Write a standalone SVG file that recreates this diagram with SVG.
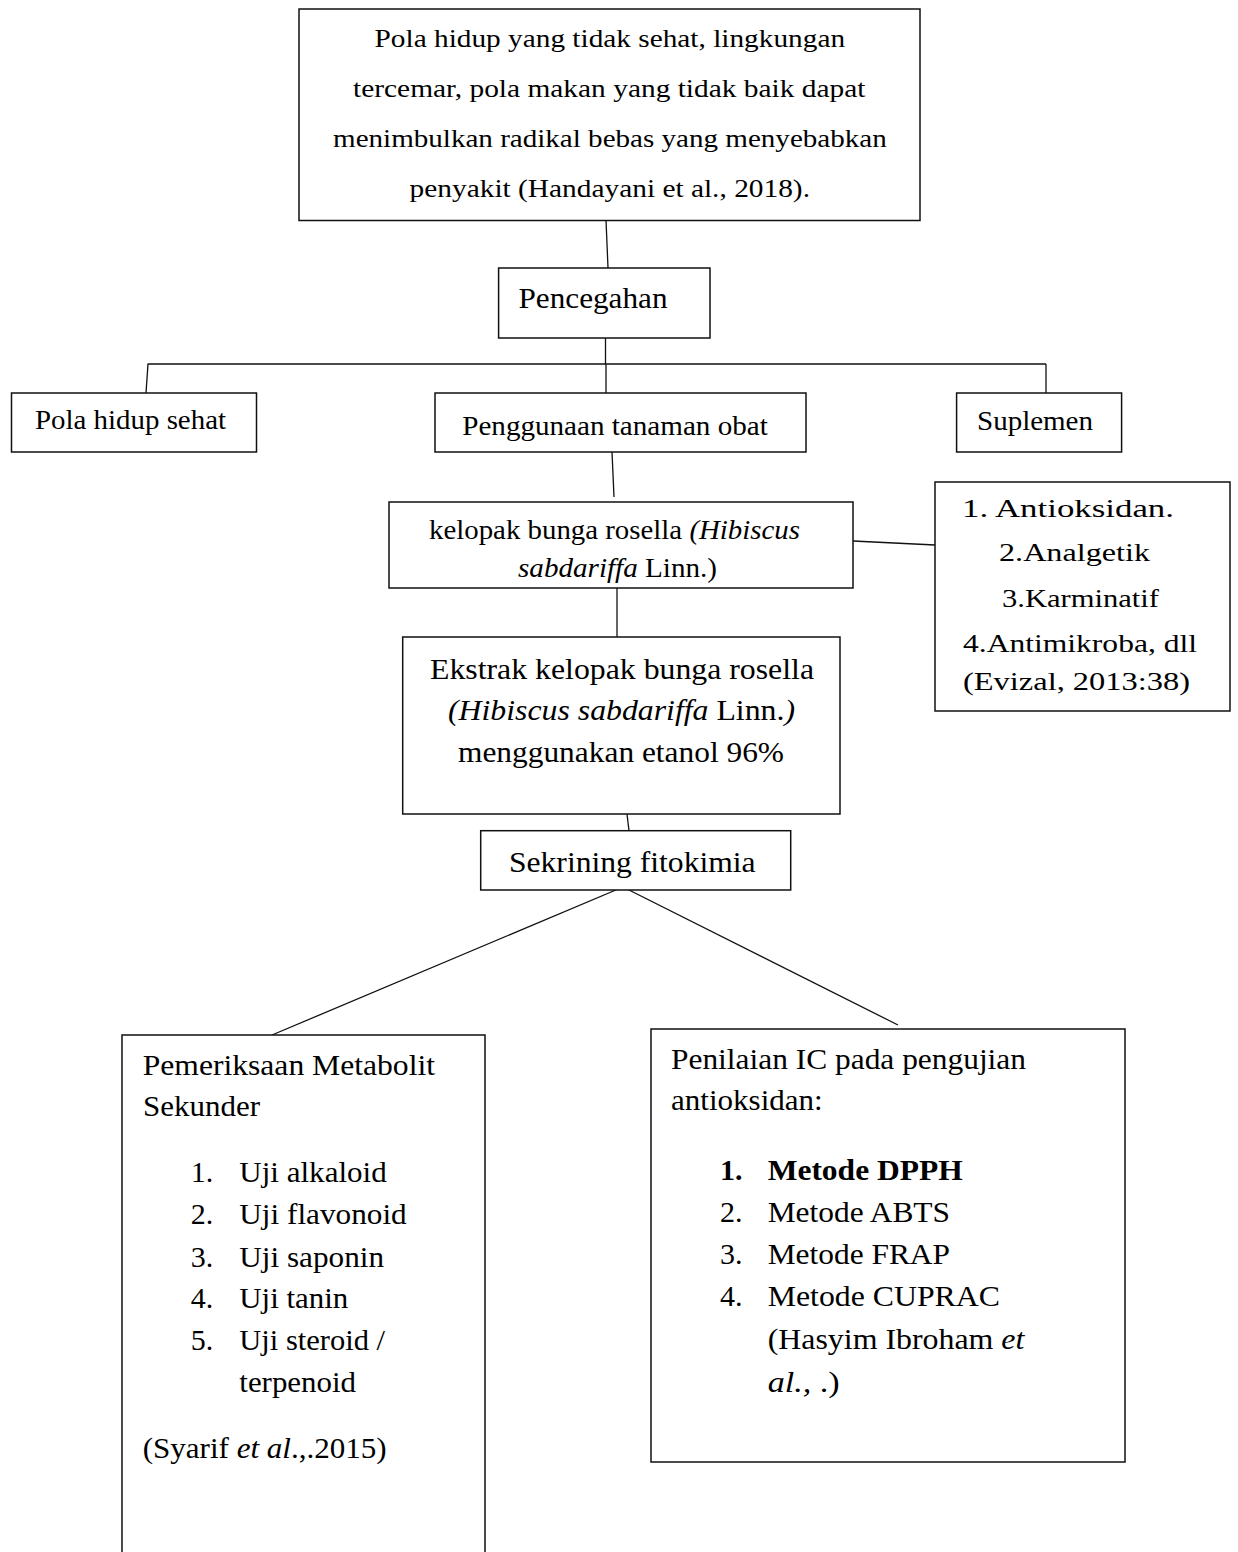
<svg xmlns="http://www.w3.org/2000/svg" width="1238" height="1552" viewBox="0 0 1238 1552" font-family="Liberation Serif, Times New Roman, Tinos, Times, serif">
<style>
  .box{fill:#fff;stroke:#111;stroke-width:1.5}
  .ln{fill:none;stroke:#111;stroke-width:1.3}
  text{font-family:'Liberation Serif','Times New Roman',Tinos,Times,serif;fill:#000}
  .c{text-anchor:middle}
  .i{font-style:italic}
  .b{font-weight:bold}
  .s26{font-size:26px}
  .s27{font-size:27px}
  .s25{font-size:25px}
  .s30{font-size:30px}
</style>
<rect width="1238" height="1552" fill="#fff"/>

<g id="connectors">
  <line class="ln" x1="606" y1="220" x2="608" y2="268"/>
  <line class="ln" x1="605.5" y1="338" x2="605.5" y2="364"/>
  <line class="ln" x1="147.6" y1="364" x2="1046" y2="364"/>
  <line class="ln" x1="148" y1="364" x2="146" y2="393"/>
  <line class="ln" x1="606" y1="364" x2="606" y2="393"/>
  <line class="ln" x1="1046" y1="364" x2="1046" y2="393"/>
  <line class="ln" x1="612" y1="452" x2="614" y2="497"/>
  <line class="ln" x1="853" y1="541" x2="935" y2="545"/>
  <line class="ln" x1="617" y1="588" x2="617" y2="637"/>
  <line class="ln" x1="627" y1="814" x2="629" y2="831"/>
  <line class="ln" x1="623" y1="887" x2="272" y2="1035"/>
  <line class="ln" x1="623" y1="887" x2="898" y2="1025"/>
</g>

<g id="node-top">
  <rect class="box" x="299" y="9" width="621" height="211.5"/>
  <text class="c s26" x="609.8" y="47" textLength="470.5" lengthAdjust="spacingAndGlyphs">Pola hidup yang tidak sehat, lingkungan</text>
  <text class="c s26" x="609.3" y="97" textLength="512.5" lengthAdjust="spacingAndGlyphs">tercemar, pola makan yang tidak baik dapat</text>
  <text class="c s26" x="609.9" y="147" textLength="553.7" lengthAdjust="spacingAndGlyphs">menimbulkan radikal bebas yang menyebabkan</text>
  <text class="c s26" x="609.8" y="197" textLength="400.4" lengthAdjust="spacingAndGlyphs">penyakit (Handayani et al., 2018).</text>
</g>

<g id="node-pencegahan">
  <rect class="box" x="498.6" y="268" width="211.4" height="70"/>
  <text class="c s30" x="593" y="308" textLength="149" lengthAdjust="spacingAndGlyphs">Pencegahan</text>
</g>

<g id="node-pola">
  <rect class="box" x="11.5" y="393" width="245" height="59"/>
  <text class="c s27" x="130.5" y="429" textLength="191" lengthAdjust="spacingAndGlyphs">Pola hidup sehat</text>
</g>

<g id="node-penggunaan">
  <rect class="box" x="435" y="393" width="371" height="59"/>
  <text class="c s27" x="615" y="435" textLength="305.5" lengthAdjust="spacingAndGlyphs">Penggunaan tanaman obat</text>
</g>

<g id="node-suplemen">
  <rect class="box" x="956.6" y="393" width="165" height="59"/>
  <text class="c s27" x="1035" y="430" textLength="116" lengthAdjust="spacingAndGlyphs">Suplemen</text>
</g>

<g id="node-kelopak">
  <rect class="box" x="389" y="502" width="464" height="86"/>
  <text class="c s27" x="614.5" y="539" textLength="371" lengthAdjust="spacingAndGlyphs">kelopak bunga rosella <tspan class="i">(Hibiscus</tspan></text>
  <text class="c s27" x="617.5" y="577" textLength="199" lengthAdjust="spacingAndGlyphs"><tspan class="i">sabdariffa</tspan> Linn.)</text>
</g>

<g id="node-manfaat">
  <rect class="box" x="935" y="482" width="295" height="229"/>
  <text class="c s25" x="1068" y="517" textLength="212" lengthAdjust="spacingAndGlyphs">1.  Antioksidan.</text>
  <text class="c s25" x="1074.5" y="561" textLength="151" lengthAdjust="spacingAndGlyphs">2.Analgetik</text>
  <text class="c s25" x="1080.5" y="607" textLength="157" lengthAdjust="spacingAndGlyphs">3.Karminatif</text>
  <text class="c s25" x="1080" y="652" textLength="234" lengthAdjust="spacingAndGlyphs">4.Antimikroba, dll</text>
  <text class="c s25" x="1076.5" y="690" textLength="227" lengthAdjust="spacingAndGlyphs">(Evizal, 2013:38)</text>
</g>

<g id="node-ekstrak">
  <rect class="box" x="402.7" y="637" width="437.3" height="177"/>
  <text class="c s30" x="622" y="679" textLength="384" lengthAdjust="spacingAndGlyphs">Ekstrak kelopak bunga rosella</text>
  <text class="c s30" x="621.5" y="720" textLength="347" lengthAdjust="spacingAndGlyphs"><tspan class="i">(Hibiscus sabdariffa</tspan> Linn.<tspan class="i">)</tspan></text>
  <text class="c s30" x="621" y="762" textLength="326" lengthAdjust="spacingAndGlyphs">menggunakan etanol 96%</text>
</g>

<g id="node-sekrining">
  <rect class="box" x="480.7" y="830.7" width="310" height="59.3"/>
  <text class="c s30" x="632.3" y="872" textLength="246.7" lengthAdjust="spacingAndGlyphs">Sekrining fitokimia</text>
</g>

<g id="node-metabolit">
  <path class="box" d="M122,1560 V1035 H485 V1560"/>
  <text class="s30" x="142.7" y="1075" textLength="292.3" lengthAdjust="spacingAndGlyphs">Pemeriksaan Metabolit</text>
  <text class="s30" x="143" y="1116" textLength="117" lengthAdjust="spacingAndGlyphs">Sekunder</text>
  <text class="s30" x="190.7" y="1182.3">1.</text>
  <text class="s30" x="239.3" y="1182.3" textLength="147.4" lengthAdjust="spacingAndGlyphs">Uji alkaloid</text>
  <text class="s30" x="190.7" y="1224">2.</text>
  <text class="s30" x="239.3" y="1224" textLength="167.4" lengthAdjust="spacingAndGlyphs">Uji flavonoid</text>
  <text class="s30" x="190.7" y="1266.7">3.</text>
  <text class="s30" x="239.3" y="1266.7" textLength="144.7" lengthAdjust="spacingAndGlyphs">Uji saponin</text>
  <text class="s30" x="190.7" y="1308.3">4.</text>
  <text class="s30" x="239.3" y="1308.3" textLength="109" lengthAdjust="spacingAndGlyphs">Uji tanin</text>
  <text class="s30" x="190.7" y="1350">5.</text>
  <text class="s30" x="239.3" y="1350" textLength="145.7" lengthAdjust="spacingAndGlyphs">Uji steroid /</text>
  <text class="s30" x="239.3" y="1391.7" textLength="116.7" lengthAdjust="spacingAndGlyphs">terpenoid</text>
  <text class="s30" x="142.7" y="1458.3" textLength="244" lengthAdjust="spacingAndGlyphs">(Syarif <tspan class="i">et al</tspan>.,.2015)</text>
</g>

<g id="node-ic">
  <rect class="box" x="651" y="1029" width="474" height="433"/>
  <text class="s30" x="671" y="1069.3" textLength="355" lengthAdjust="spacingAndGlyphs">Penilaian IC pada pengujian</text>
  <text class="s30" x="671" y="1110" textLength="151.7" lengthAdjust="spacingAndGlyphs">antioksidan:</text>
  <text class="s30 b" x="720" y="1180">1.</text>
  <text class="s30 b" x="767.7" y="1180" textLength="195" lengthAdjust="spacingAndGlyphs">Metode DPPH</text>
  <text class="s30" x="720" y="1221.7">2.</text>
  <text class="s30" x="767.7" y="1221.7" textLength="182.3" lengthAdjust="spacingAndGlyphs">Metode ABTS</text>
  <text class="s30" x="720" y="1264">3.</text>
  <text class="s30" x="767.7" y="1264" textLength="182.3" lengthAdjust="spacingAndGlyphs">Metode FRAP</text>
  <text class="s30" x="720" y="1306">4.</text>
  <text class="s30" x="767.7" y="1306" textLength="232.3" lengthAdjust="spacingAndGlyphs">Metode CUPRAC</text>
  <text class="s30" x="767.7" y="1349.3" textLength="256.6" lengthAdjust="spacingAndGlyphs">(Hasyim Ibroham <tspan class="i">et</tspan></text>
  <text class="s30" x="767.7" y="1391.7" textLength="72" lengthAdjust="spacingAndGlyphs"><tspan class="i">al.,</tspan> .)</text>
</g>
</svg>
